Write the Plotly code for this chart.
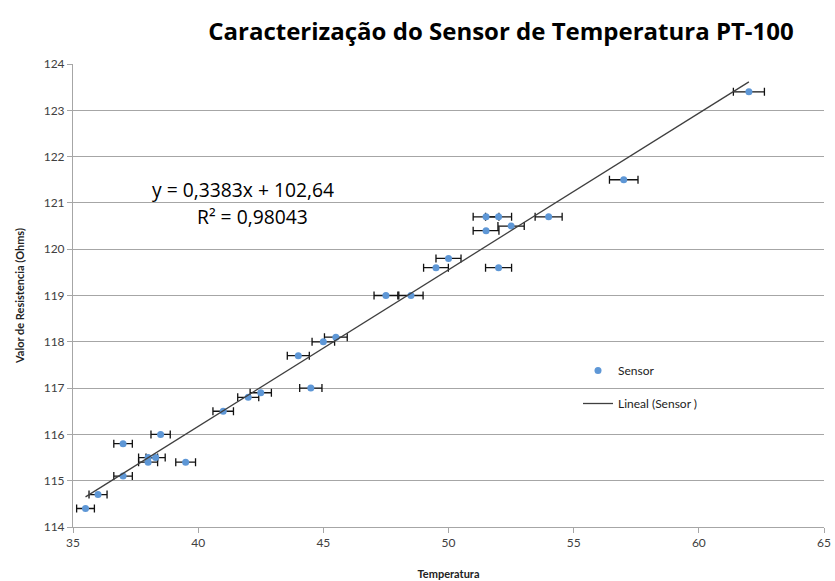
import plotly.graph_objects as go

# Medições do sensor PT-100: temperatura (°C) e resistência (Ohms)
temperatura = [35.5, 36.0, 37.0, 37.0, 38.0, 38.0, 38.3, 38.5, 39.5, 41.0, 42.0, 42.5,
               44.0, 44.5, 45.0, 45.5, 47.5, 48.5, 49.5, 50.0, 51.5, 51.5, 52.0,
               52.5, 52.0, 54.0, 57.0, 62.0]
resistencia = [114.4, 114.7, 115.1, 115.8, 115.4, 115.5, 115.5, 116.0, 115.4, 116.5, 116.8, 116.9,
               117.7, 117.0, 118.0, 118.1, 119.0, 119.0, 119.6, 119.8, 120.4, 120.7, 120.7,
               120.5, 119.6, 120.7, 121.5, 123.4]
erro_relativo = 0.01  # incerteza de 1% na temperatura

# Linha de tendência linear
inclinacao = 0.3383
intercepto = 102.64
r2 = 0.98043

x_ticks = [35, 40, 45, 50, 55, 60, 65]
y_ticks = list(range(114, 125))

erros = [t * erro_relativo for t in temperatura]
x_lin = [min(temperatura), max(temperatura)]
y_lin = [inclinacao * x + intercepto for x in x_lin]

FONT = "Lato"
FONT_TXT = "Open Sans"

# Área do gráfico em pixels
L, R, T, B = 73, 824, 64, 527
W, H = 835, 581


def px_to_paper(px, py):
    return (px - L) / (R - L), (B - py) / (B - T)


fig = go.Figure()

fig.add_trace(go.Scatter(
    x=temperatura, y=resistencia, mode="markers", name="Sensor", legendgroup="a",
    marker=dict(color="#5e97d6", size=7),
    error_x=dict(type="data", array=erros, visible=True, color="#111111",
                 thickness=1.3, width=4),
))

fig.add_trace(go.Scatter(
    x=x_lin, y=y_lin, mode="lines", name="Lineal (Sensor )", legendgroup="b",
    line=dict(color="#3f3f3f", width=1.3),
))

eq_txt = "y = {:.4f}x + {:.2f}".format(inclinacao, intercepto).replace(".", ",")
r2_txt = "R² = {:.5f}".format(r2).replace(".", ",")

lx, ly = px_to_paper(578, 356)
fig.update_layout(
    width=W, height=H,
    margin=dict(l=L, r=W - R, t=T, b=H - B),
    paper_bgcolor="white", plot_bgcolor="white",
    font=dict(family=FONT, color="#404040"),
    title=dict(text="<b>Caracterização do Sensor de Temperatura PT-100</b>",
               x=501 / W, xanchor="center", y=1 - 32 / H, yanchor="middle",
               font=dict(family=FONT_TXT, size=24, color="#000000")),
    showlegend=True,
    legend=dict(x=lx, y=ly, xanchor="left", yanchor="top",
                bgcolor="rgba(0,0,0,0)", font=dict(family=FONT, size=12, color="#222222"),
                tracegroupgap=14, itemwidth=30),
)

fig.update_xaxes(
    range=[35, 65], tickvals=x_ticks, showgrid=False, zeroline=False,
    showline=True, linecolor="#a6a6a6", linewidth=1,
    ticks="outside", ticklen=5, tickcolor="#a6a6a6", automargin=False,
    tickfont=dict(family=FONT, size=12, color="#404040"),
    title=dict(text="<b>Temperatura</b>", font=dict(family=FONT, size=11, color="#222222"),
               standoff=20),
)
fig.update_yaxes(
    range=[114, 124], tickvals=y_ticks, showgrid=True, gridcolor="#a6a6a6", gridwidth=1,
    zeroline=False, showline=True, linecolor="#a6a6a6", linewidth=1,
    ticks="outside", ticklen=5, tickcolor="#a6a6a6", automargin=False,
    tickfont=dict(family=FONT, size=12, color="#404040"),
    title=dict(text="<b>Valor de Resistencia (Ohms)</b>",
               font=dict(family=FONT, size=11, color="#222222"), standoff=16),
)

# Equação e coeficiente de determinação
ex, ey = px_to_paper(243, 189)
rx, ry = px_to_paper(252, 217)
fig.add_annotation(x=ex, y=ey, xref="paper", yref="paper", showarrow=False,
                   xanchor="center", yanchor="middle",
                   text=eq_txt, font=dict(family=FONT_TXT, size=19.3, color="#000000"))
fig.add_annotation(x=rx, y=ry, xref="paper", yref="paper", showarrow=False,
                   xanchor="center", yanchor="middle",
                   text=r2_txt, font=dict(family=FONT_TXT, size=19.3, color="#000000"))

fig.write_html("out.html")
